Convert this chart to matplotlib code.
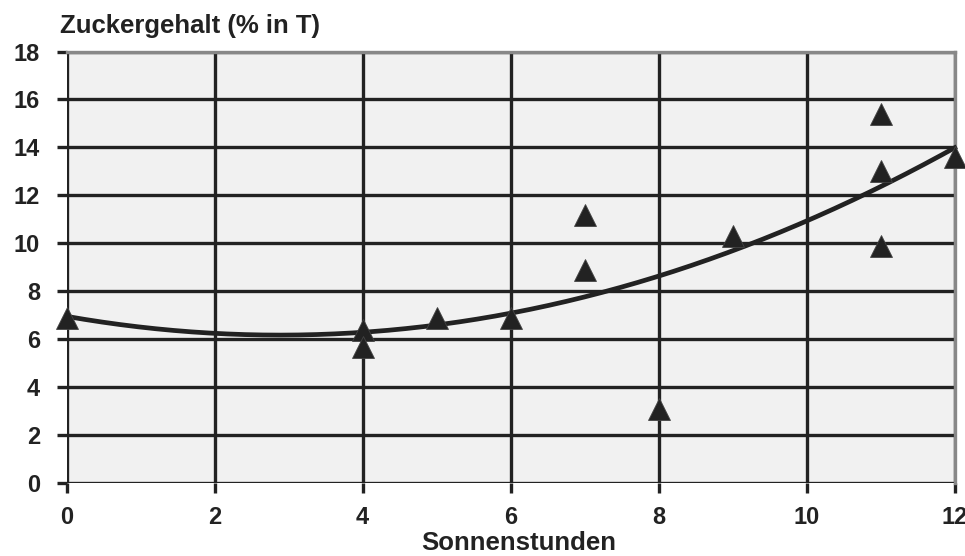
import numpy as np
import matplotlib
matplotlib.use("Agg")
import matplotlib.pyplot as plt

plt.rcParams['font.family'] = ['Liberation Sans', 'DejaVu Sans']

sonnenstunden = [0, 4, 4, 5, 6, 7, 7, 8, 9, 11, 11, 11, 12]
zuckergehalt = [6.9, 6.4, 5.7, 6.9, 6.9, 11.2, 8.9, 3.1, 10.3, 15.4, 13.0, 9.9, 13.6]
x_ticks = [0, 2, 4, 6, 8, 10, 12]
y_ticks = [0, 2, 4, 6, 8, 10, 12, 14, 16, 18]

W, H = 965, 556
fig = plt.figure(figsize=(W / 100, H / 100), dpi=100)
ax = fig.add_axes([66.5 / W, 1 - 483.3 / H, (954.7 - 66.5) / W, (483.3 - 51.5) / H])
ax.set_facecolor('#f1f1f1')
ax.set_xlim(0, 12)
ax.set_ylim(0, 18)

for v in x_ticks:
    ax.axvline(v, color='#222222', lw=2.4, zorder=1)
for v in y_ticks:
    ax.axhline(v, color='#222222', lw=2.4, zorder=1)

for s in ['left', 'bottom']:
    ax.spines[s].set_visible(False)
for s in ['top', 'right']:
    ax.spines[s].set_color('#888888')
    ax.spines[s].set_linewidth(2.4)

# polynomial (2nd order) trend line fitted through the data
coef = np.polyfit(sonnenstunden, zuckergehalt, 2)
xs = np.linspace(0, 12, 200)
ax.plot(xs, np.polyval(coef, xs), color='#222222', lw=3.4, zorder=3, clip_on=False)

ax.plot(sonnenstunden, zuckergehalt, linestyle='none', marker='^', markersize=16.5,
        markerfacecolor='#222222', markeredgecolor='#444444', markeredgewidth=0.6,
        zorder=4, clip_on=False)

ax.set_xticks(x_ticks)
ax.set_yticks(y_ticks)
ax.set_xticklabels([str(v) for v in x_ticks], fontsize=17, fontweight='bold', color='#222222')
ax.set_yticklabels([str(v) for v in y_ticks], fontsize=17, fontweight='bold', color='#222222')
ax.tick_params(axis='both', length=7, width=2.4, color='#222222')
ax.tick_params(axis='x', pad=9)
ax.tick_params(axis='y', pad=12)

fig.text(519 / W, 1 - 550 / H, 'Sonnenstunden', fontsize=18.5, fontweight='bold',
         color='#222222', ha='center', va='baseline')
fig.text(60 / W, 1 - 33 / H, 'Zuckergehalt (% in T)', fontsize=18.5, fontweight='bold',
         color='#222222', ha='left', va='baseline')

fig.savefig('out.png', dpi=100)
